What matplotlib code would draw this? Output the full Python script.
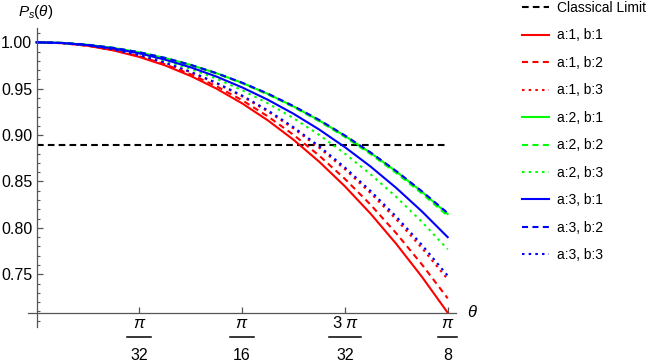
import numpy as np
import matplotlib
matplotlib.use('Agg')
import matplotlib.pyplot as plt
from matplotlib.lines import Line2D
from matplotlib.ticker import FixedLocator, MultipleLocator, NullFormatter

plt.rcParams['font.family'] = ['Liberation Sans', 'DejaVu Sans']
plt.rcParams['mathtext.fontset'] = 'custom'
plt.rcParams['mathtext.rm'] = 'Liberation Sans'
plt.rcParams['mathtext.it'] = 'Liberation Sans:italic'
plt.rcParams['mathtext.bf'] = 'Liberation Sans:bold'

# ---- data ----
theta_k = list(range(17))          # theta = k * pi/128
classical_limit = 0.8889

p_a1_b1 = [1.0, 0.9991, 0.9962, 0.9912, 0.9842, 0.9751, 0.9637, 0.9501, 0.9342,
           0.9159, 0.8950, 0.8713, 0.8448, 0.8153, 0.7827, 0.7472, 0.7086]
p_a1_b2 = [1.0, 0.9991, 0.9963, 0.9916, 0.9850, 0.9763, 0.9655, 0.9527, 0.9376,
           0.9202, 0.9003, 0.8779, 0.8528, 0.8250, 0.7942, 0.7605, 0.7241]
p_a1_b3 = [1.0, 0.9991, 0.9965, 0.9921, 0.9858, 0.9777, 0.9677, 0.9558, 0.9417,
           0.9256, 0.9071, 0.8864, 0.8632, 0.8375, 0.8092, 0.7782, 0.7446]
p_a2_b1 = [1.0, 0.9993, 0.9973, 0.9939, 0.9892, 0.9831, 0.9756, 0.9667, 0.9563,
           0.9444, 0.9309, 0.9158, 0.8991, 0.8808, 0.8607, 0.8388, 0.8150]
p_a2_b2 = [1.0, 0.9993, 0.9973, 0.9939, 0.9891, 0.9829, 0.9754, 0.9663, 0.9559,
           0.9438, 0.9302, 0.9149, 0.8980, 0.8795, 0.8592, 0.8370, 0.8130]
p_a2_b3 = [1.0, 0.9992, 0.9969, 0.9929, 0.9874, 0.9802, 0.9713, 0.9608, 0.9484,
           0.9343, 0.9182, 0.9002, 0.8800, 0.8578, 0.8333, 0.8064, 0.7770]
p_a3_b1 = [1.0, 0.9993, 0.9970, 0.9933, 0.9881, 0.9813, 0.9730, 0.9631, 0.9514,
           0.9381, 0.9230, 0.9060, 0.8870, 0.8661, 0.8430, 0.8177, 0.7900]
p_a3_b2 = [1.0, 0.9993, 0.9973, 0.9940, 0.9893, 0.9832, 0.9757, 0.9668, 0.9565,
           0.9447, 0.9313, 0.9163, 0.8996, 0.8813, 0.8612, 0.8394, 0.8160]
p_a3_b3 = [1.0, 0.9991, 0.9966, 0.9922, 0.9861, 0.9781, 0.9682, 0.9564, 0.9426,
           0.9267, 0.9085, 0.8880, 0.8651, 0.8398, 0.8121, 0.7816, 0.7485]

labels = ["a:1, b:1", "a:1, b:2", "a:1, b:3",
          "a:2, b:1", "a:2, b:2", "a:2, b:3",
          "a:3, b:1", "a:3, b:2", "a:3, b:3"]

xtick_vals = [np.pi / 32, np.pi / 16, 3 * np.pi / 32, np.pi / 8]
xtick_num = [r"$\pi$", r"$\pi$", r"$3\;\pi$", r"$\pi$"]
xtick_den = ["32", "16", "32", "8"]
ytick_vals = [0.75, 0.80, 0.85, 0.90, 0.95, 1.00]
ytick_labels = ["0.75", "0.80", "0.85", "0.90", "0.95", "1.00"]

# ---- figure ----
W, H = 664, 362
fig = plt.figure(figsize=(W / 100, H / 100), dpi=100)
ax = fig.add_axes([28 / W, 1 - 327 / H, (455.7 - 28) / W, (327 - 28) / H])

theta = np.array(theta_k) * np.pi / 128
xmax = np.pi / 8
ax.set_xlim(-0.0207 * xmax, 1.0195 * xmax)
ax.set_ylim(0.6932, 1.0154)

dash = (0, (2.9, 2.1))
dot = (0, (1.2, 2.0))
styles = ['-', dash, dot]
colors = ['#ff0000', '#00ff00', '#0000ff']
series = [p_a1_b1, p_a1_b2, p_a1_b3, p_a2_b1, p_a2_b2, p_a2_b3,
          p_a3_b1, p_a3_b2, p_a3_b3]

handles = []
h, = ax.plot([0, xmax], [classical_limit, classical_limit], color='black',
             lw=1.5, linestyle=(0, (3.2, 2.0)), label='Classical Limit')
handles.append(h)
for i, ys in enumerate(series):
    h, = ax.plot(theta, ys, color=colors[i // 3], linestyle=styles[i % 3],
                 lw=1.5, label=labels[i])
    handles.append(h)

# axes styling (Mathematica-like)
for s in ['top', 'right']:
    ax.spines[s].set_visible(False)
axcol = '#555555'
ax.spines['left'].set_position(('data', 0))
ax.spines['bottom'].set_position(('data', min(p_a1_b1)))
for s in ['left', 'bottom']:
    ax.spines[s].set_color(axcol)
    ax.spines[s].set_linewidth(0.9)

ax.yaxis.set_major_locator(FixedLocator(ytick_vals))
ax.yaxis.set_minor_locator(MultipleLocator(0.01))
ax.set_yticklabels(ytick_labels)
ax.xaxis.set_major_locator(FixedLocator(xtick_vals))
ax.xaxis.set_major_formatter(NullFormatter())
ax.tick_params(axis='both', which='major', direction='in', length=4,
               width=0.9, color=axcol, labelsize=11.5, labelcolor='black')
ax.tick_params(axis='y', which='minor', direction='in', length=2.2,
               width=0.8, color=axcol)
ax.tick_params(axis='y', which='major', pad=3)

# fraction tick labels for the theta axis
fig.canvas.draw()
renderer = fig.canvas.get_renderer()
for xv, num, den in zip(xtick_vals, xtick_num, xtick_den):
    xpx = ax.transData.transform((xv, 0.8))[0]
    t1 = fig.text(xpx / W, 1 - 323 / H, num, ha='center', va='center', fontsize=12)
    t2 = fig.text(xpx / W, 1 - 355 / H, den, ha='center', va='center', fontsize=11.5)
    w = max(t1.get_window_extent(renderer).width,
            t2.get_window_extent(renderer).width) + 6
    fig.add_artist(Line2D([(xpx - w / 2) / W, (xpx + w / 2) / W],
                          [1 - 337 / H, 1 - 337 / H], color='black', lw=1.1,
                          transform=fig.transFigure))

fig.text(18 / W, 1 - 12 / H, r"$P_s(\theta)$", fontsize=11, va='center', ha='left')
fig.text(472 / W, 1 - 312 / H, r"$\theta$", fontsize=12, va='center', ha='center')

fig.legend(handles=handles, loc='upper left', bbox_to_anchor=(521.7 / W, 1 - 1 / H),
           frameon=False, fontsize=10, handlelength=1.94, handletextpad=0.63,
           labelspacing=0.97, borderpad=0, borderaxespad=0)

fig.savefig('out.png', dpi=100)
